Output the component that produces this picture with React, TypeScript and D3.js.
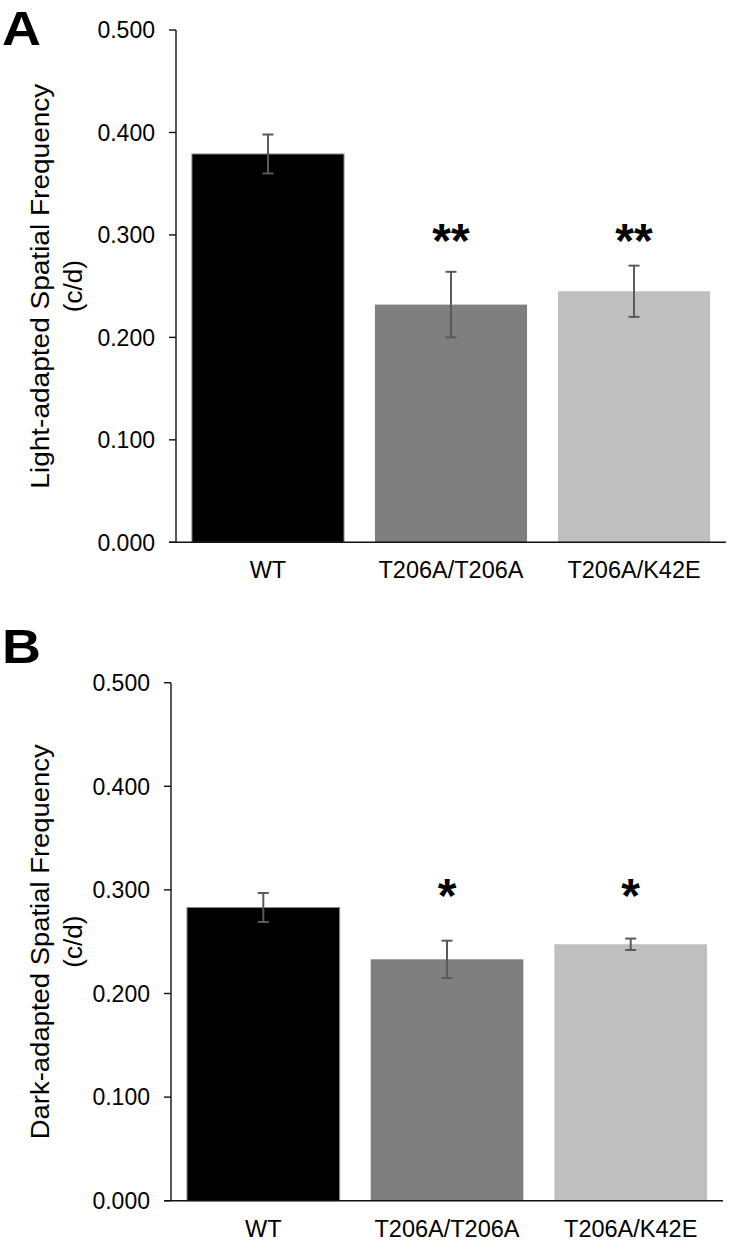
import React, { useEffect } from 'react';
import * as d3 from 'd3';

// genotype groups and bar fills
const genotypes = ['WT', 'T206A/T206A', 'T206A/K42E'];
const barColors = ['#000000', '#7f7f7f', '#bfbfbf'];

// panel A: light-adapted spatial frequency (c/d)
const lightMeans = [0.379, 0.232, 0.245];
const lightErrors = [0.019, 0.032, 0.025];
const lightStars = ['', '**', '**'];

// panel B: dark-adapted spatial frequency (c/d)
const darkMeans = [0.283, 0.233, 0.2475];
const darkErrors = [0.014, 0.018, 0.0055];
const darkStars = ['', '*', '*'];

const yTicks = [0, 0.1, 0.2, 0.3, 0.4, 0.5];
const starLevel = 0.305;

const FONT = '"Liberation Sans", Arial, Helvetica, sans-serif';

type PanelProps = {
  letter: string;
  title: string;
  means: number[];
  errors: number[];
  stars: string[];
  left: number;
  right: number;
  top: number;
  bottom: number;
  letterY: number;
  titleLength: number;
};

const Panel = ({ letter, title, means, errors, stars, left, right, top, bottom, letterY, titleLength }: PanelProps) => {
  const x = d3.scaleBand<string>()
    .domain(genotypes)
    .range([left, right])
    .paddingInner(0.169)
    .paddingOuter(0.087);

  const y = d3.scaleLinear().domain([0, 0.5]).range([bottom, top]);
  const fmt = d3.format('.3f');
  const bw = x.bandwidth();
  const midY = (top + bottom) / 2;

  return (
    <g>
      <text x={2} y={letterY} fontFamily={FONT} fontWeight="bold" fontSize={49} fill="#000"
        textLength={39} lengthAdjust="spacingAndGlyphs">
        {letter}
      </text>

      {/* axis title, two lines */}
      <g transform={`translate(48.5, ${midY}) rotate(-90)`}>
        <text x={0} y={0} textAnchor="middle" fontFamily={FONT} fontSize={26} fill="#000"
          textLength={titleLength} lengthAdjust="spacingAndGlyphs">
          {title}
        </text>
        <text x={0} y={33} textAnchor="middle" fontFamily={FONT} fontSize={26} fill="#000">
          (c/d)
        </text>
      </g>

      {/* bars */}
      {genotypes.map((g, i) => (
        <rect key={g} x={x(g)} y={y(means[i])} width={bw} height={y(0) - y(means[i])}
          fill={barColors[i]} stroke={i === 0 ? '#8a8a8a' : 'none'} strokeWidth={1} />
      ))}

      {/* error bars */}
      {genotypes.map((g, i) => {
        const cx = (x(g) as number) + bw / 2;
        const y1 = y(means[i] + errors[i]);
        const y2 = y(means[i] - errors[i]);
        return (
          <g key={g} stroke="#5a5a5a" strokeWidth={2}>
            <line x1={cx} x2={cx} y1={y1} y2={y2} />
            <line x1={cx - 5.5} x2={cx + 5.5} y1={y1} y2={y1} />
            <line x1={cx - 5.5} x2={cx + 5.5} y1={y2} y2={y2} />
          </g>
        );
      })}

      {/* significance marks */}
      {genotypes.map((g, i) => stars[i] ? (
        <text key={g} x={(x(g) as number) + bw / 2} y={y(starLevel) + 27}
          textAnchor="middle" fontFamily={FONT} fontWeight="bold" fontSize={48} fill="#000">
          {stars[i]}
        </text>
      ) : null)}

      {/* y axis */}
      <line x1={left} x2={left} y1={top} y2={bottom} stroke="#111" strokeWidth={1.4} />
      {yTicks.map(t => (
        <g key={t}>
          <line x1={left - 7} x2={left} y1={y(t)} y2={y(t)} stroke="#111" strokeWidth={1.4} />
          <text x={left - 21} y={y(t)} dy="0.36em" textAnchor="end" fontFamily={FONT} fontSize={23} fill="#000">
            {fmt(t)}
          </text>
        </g>
      ))}

      {/* x axis */}
      <line x1={left - 7} x2={right} y1={bottom} y2={bottom} stroke="#111" strokeWidth={1.4} />
      {genotypes.map(g => (
        <text key={g} x={(x(g) as number) + bw / 2} y={bottom + 36} textAnchor="middle"
          fontFamily={FONT} fontSize={23.5} fill="#000">
          {g}
        </text>
      ))}
    </g>
  );
};

export default function App() {
  useEffect(() => {
    document.body.style.margin = '0';
  }, []);

  return (
    <svg width={731} height={1242} style={{ display: 'block', position: 'absolute', left: 0, top: 0, background: '#fff' }}>
      <rect width={731} height={1242} fill="#fff" />
      <Panel letter="A" title="Light-adapted Spatial Frequency" means={lightMeans} errors={lightErrors}
        stars={lightStars} left={176} right={726} top={30} bottom={542.3} letterY={45} titleLength={405} />
      <Panel letter="B" title="Dark-adapted Spatial Frequency" means={darkMeans} errors={darkErrors}
        stars={darkStars} left={171} right={723} top={682.7} bottom={1200.7} letterY={663} titleLength={395} />
    </svg>
  );
}
